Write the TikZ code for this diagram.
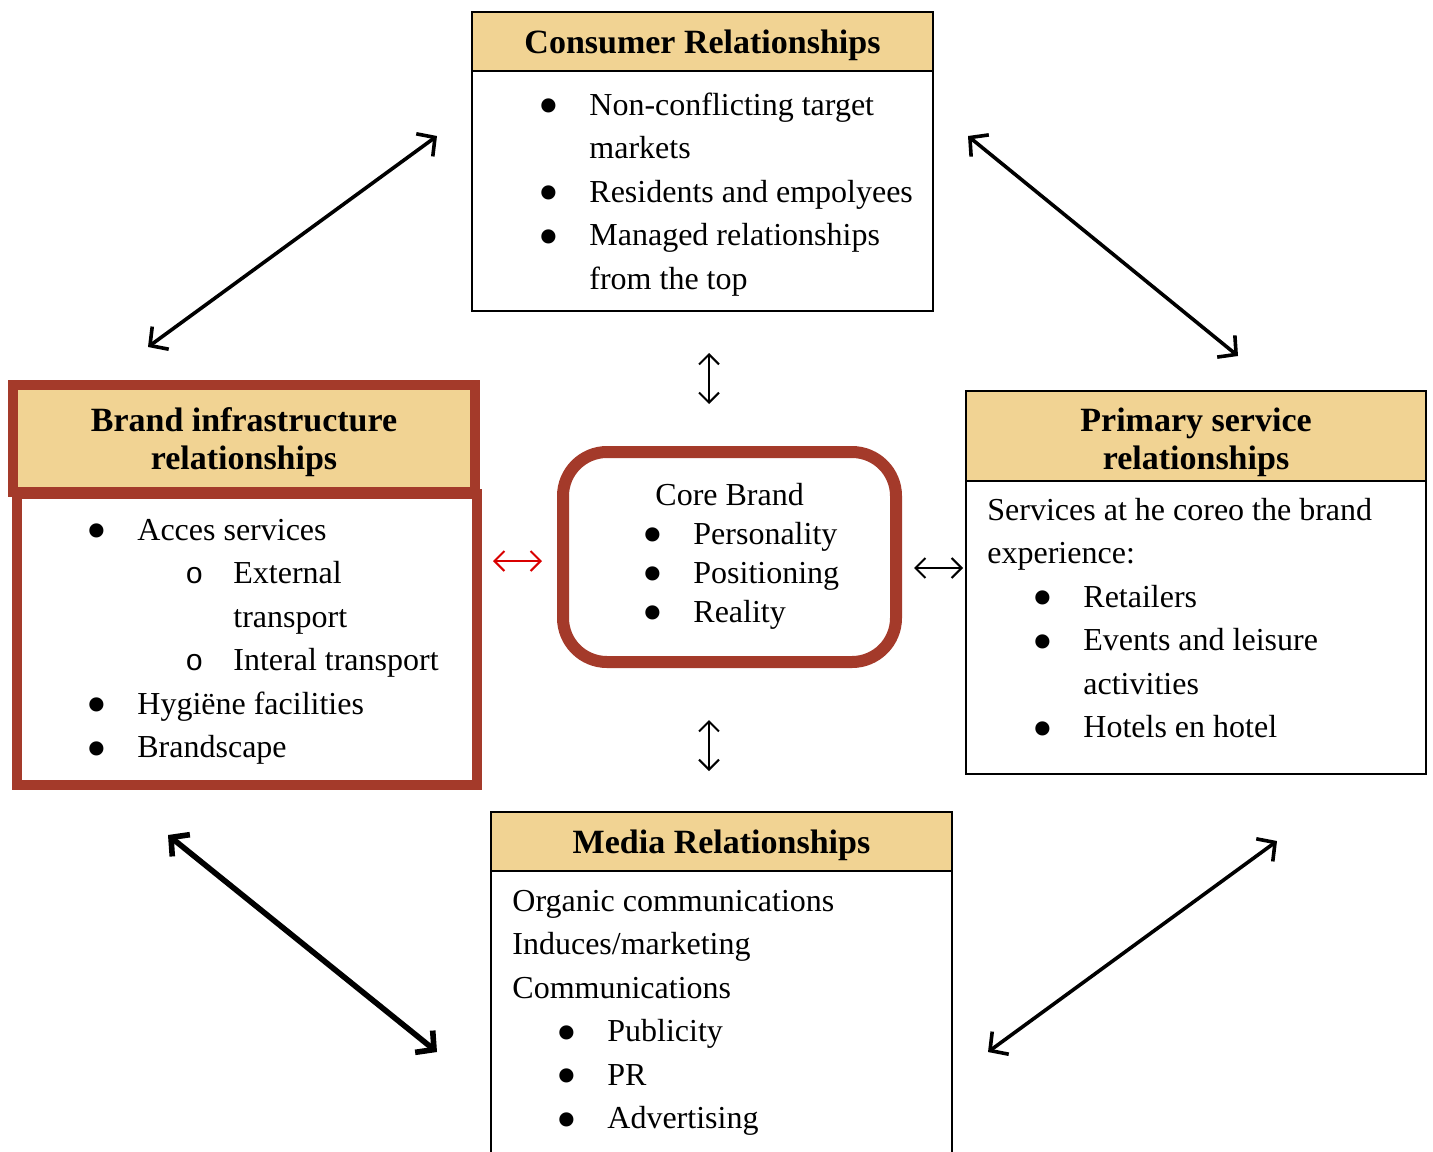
\documentclass[tikz,border=0pt]{standalone}
\usepackage{fontspec}
\setmainfont{Liberation Serif}
\setmonofont{Liberation Mono}
\usepackage{xcolor}
\usepackage{graphicx}
\usetikzlibrary{positioning,calc,arrows.meta}
\definecolor{headTan}{RGB}{241,211,147}
\definecolor{brandRed}{RGB}{164,58,42}
\newcommand{\bull}{\makebox[23pt][l]{\hspace*{-2.5pt}\smash{\raisebox{-5.2pt}{\scalebox{1.85}{\textbullet}}}}}
\newcommand{\circb}{\makebox[24pt][l]{\fontsize{15pt}{15pt}\selectfont\ttfamily o}}

\begin{document}
\begin{tikzpicture}[
    x=0.5pt, y=-0.5pt,
    headbox/.style={rectangle, draw, line width=1pt, fill=headTan, anchor=north west, inner sep=0pt, outer sep=0pt,
        align=center, font=\fontsize{17pt}{19pt}\selectfont\bfseries},
    bodybox/.style={rectangle, draw, line width=1pt, fill=white, inner sep=0pt, outer sep=0pt},
    bodytext/.style={anchor=north west, inner sep=0pt, align=left, font=\fontsize{16pt}{21.75pt}\selectfont},
    arrow/.style={{Straight Barb[length=6.5pt,width=14pt]}-{Straight Barb[length=6.5pt,width=14pt]}, line width=1.8pt},
    smallarrow/.style={{Straight Barb[length=5pt,width=10pt]}-{Straight Barb[length=5pt,width=10pt]}, line width=1pt}
]
    \useasboundingbox (0,0) rectangle (1433,1151);
    \fill[white] (0,0) rectangle (1433,1151);

    % Consumer relationships
    \node[headbox, minimum width=230.5pt, minimum height=29.5pt] (cons_head) at (472,12) {\rule{0pt}{15.5pt}Consumer Relationships};
    \node[bodybox, minimum width=230.5pt, minimum height=120pt, below=0pt of cons_head] (cons_body) {};
    \node[bodytext] (cons_text) at (543,84.6) {\strut\bull Non-conflicting target\\
        \hspace*{23pt}markets\\
        \bull Residents and empolyees\\
        \bull Managed relationships\\
        \hspace*{23pt}from the top};

    % Brand infrastructure relationships
    \node[bodybox, draw=brandRed, line width=5pt, minimum width=230pt, minimum height=145.5pt, anchor=north west] (infra_body) at (17,494) {};
    \node[headbox, draw=brandRed, line width=5pt, minimum width=231pt, minimum height=53.5pt] (infra_head) at (13,385) {\rule{0pt}{16pt}Brand infrastructure\\relationships};
    \node[bodytext] (infra_text) at (91,509.5) {\strut\bull Acces services\\
        \hspace*{47pt}\circb External\\
        \hspace*{71pt}transport\\
        \hspace*{47pt}\circb Interal transport\\
        \bull Hygiëne facilities\\
        \bull Brandscape};

    % Core brand
    \node[rectangle, draw=brandRed, line width=6pt, rounded corners=22pt, minimum width=166.5pt, minimum height=105pt,
        outer sep=0pt, anchor=north west] (core) at (563,452) {};
    \node[bodytext, font=\fontsize{16pt}{19.5pt}\selectfont] (core_text) at (647,477.7) {\strut\hspace*{4pt}Core Brand\\
        \bull Personality\\
        \bull Positioning\\
        \bull Reality};

    % Primary service relationships
    \node[headbox, minimum width=230pt, minimum height=45pt] (prim_head) at (966,391) {\rule{0pt}{18.5pt}Primary service\\relationships};
    \node[bodybox, minimum width=230pt, minimum height=146.5pt, below=0pt of prim_head] (prim_body) {};
    \node[bodytext] (prim_text) at (987,489.5) {\strut Services at he coreo the brand\\
        experience:\\
        \hspace*{25pt}\bull Retailers\\
        \hspace*{25pt}\bull Events and leisure\\
        \hspace*{48pt}activities\\
        \hspace*{25pt}\bull Hotels en hotel};

    % Media relationships
    \node[headbox, minimum width=230.5pt, minimum height=29.5pt] (media_head) at (491,812) {\rule{0pt}{15.5pt}Media Relationships};
    \node[bodybox, minimum width=230.5pt, minimum height=150pt, below=0pt of media_head] (media_body) {};
    \node[bodytext] (media_text) at (512,880.5) {\strut Organic communications\\
        Induces/marketing\\
        Communications\\
        \hspace*{24.5pt}\bull Publicity\\
        \hspace*{24.5pt}\bull PR\\
        \hspace*{24.5pt}\bull Advertising};

    % arrow ends
    \coordinate (tl_a) at (148,347);
    \coordinate (tl_b) at (437,136);
    \coordinate (tr_a) at (968,136);
    \coordinate (tr_b) at (1238,356);
    \coordinate (bl_a) at (168,835);
    \coordinate (bl_b) at (437,1052);
    \coordinate (br_a) at (988,1052);
    \coordinate (br_b) at (1277,841);
    \coordinate (up_a) at (709,353);
    \coordinate (up_b) at (709,404);
    \coordinate (dn_a) at (709,720);
    \coordinate (dn_b) at (709,771);
    \coordinate (rt_a) at (914,568);
    \coordinate (rt_b) at (963,568);
    \coordinate (lf_a) at (493,561);
    \coordinate (lf_b) at (542,561);

    \draw[arrow] (tl_a) -- (tl_b);
    \draw[arrow] (tr_a) -- (tr_b);
    \draw[arrow, line width=2.8pt] (bl_a) -- (bl_b);
    \draw[arrow] (br_a) -- (br_b);
    \draw[smallarrow] (up_a) -- (up_b);
    \draw[smallarrow] (dn_a) -- (dn_b);
    \draw[smallarrow] (rt_a) -- (rt_b);
    \draw[smallarrow, red!85!black] (lf_a) -- (lf_b);
\end{tikzpicture}
\end{document}
